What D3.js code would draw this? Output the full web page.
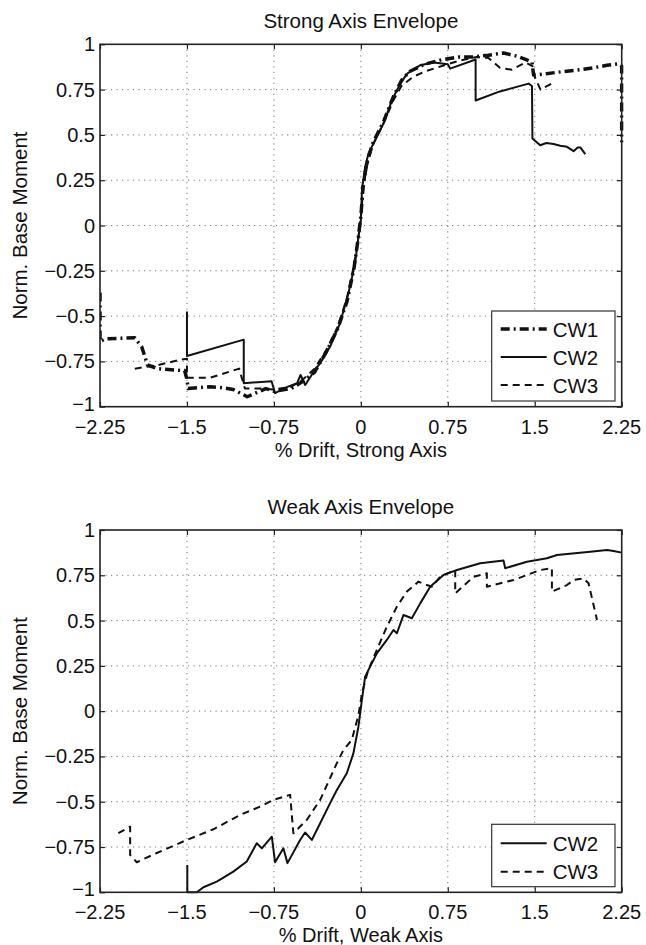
<!DOCTYPE html>
<html>
<head>
<meta charset="utf-8">
<script src="https://cdn.jsdelivr.net/npm/d3@7"></script>
<style>
  body { margin: 0; background: #fff; }
  svg text { font-family: "Liberation Sans", Arial, Helvetica, sans-serif; fill: #111; }
</style>
</head>
<body>
<svg id="chart" width="646" height="945"></svg>
<script>
// ---------- DATA ----------
const xTicks = [-2.25, -1.5, -0.75, 0, 0.75, 1.5, 2.25];
const xTickLabels = ["\u22122.25", "\u22121.5", "\u22120.75", "0", "0.75", "1.5", "2.25"];
const yTicks = [-1, -0.75, -0.5, -0.25, 0, 0.25, 0.5, 0.75, 1];
const yTickLabels = ["\u22121", "\u22120.75", "\u22120.5", "\u22120.25", "0", "0.25", "0.5", "0.75", "1"];

const strongTitle = "Strong Axis Envelope";
const strongXLabel = "% Drift, Strong Axis";
const weakTitle = "Weak Axis Envelope";
const weakXLabel = "% Drift, Weak Axis";
const yLabel = "Norm. Base Moment";

// Strong axis series [drift, moment]
const strongCW1 = [
  [-2.25,-0.37],[-2.25,-0.64],[-2.2,-0.625],[-1.95,-0.62],[-1.89,-0.67],[-1.84,-0.77],[-1.75,-0.79],
  [-1.55,-0.8],[-1.52,-0.8],[-1.5,-0.85],[-1.49,-0.9],[-1.3,-0.89],[-1.2,-0.895],[-1.1,-0.905],
  [-0.98,-0.945],[-0.82,-0.9],[-0.75,-0.915],[-0.6,-0.9],[-0.5,-0.86],[-0.4,-0.81],[-0.3,-0.7],
  [-0.2,-0.57],[-0.12,-0.42],[-0.06,-0.24],[-0.025,-0.08],[0,0.05],[0.02,0.22],[0.05,0.34],
  [0.1,0.45],[0.2,0.58],[0.28,0.71],[0.35,0.8],[0.42,0.85],[0.55,0.89],[0.7,0.915],[0.85,0.93],
  [0.97,0.93],[1.1,0.94],[1.23,0.952],[1.35,0.934],[1.476,0.902],[1.49,0.83],[1.6,0.838],
  [1.75,0.85],[1.893,0.86],[2.0,0.87],[2.123,0.884],[2.223,0.893],[2.25,0.88],[2.25,0.46]
];
const strongCW2 = [
  [-1.5,-0.475],[-1.5,-0.72],[-1.01,-0.63],[-1.01,-0.87],[-0.77,-0.86],[-0.74,-0.925],[-0.65,-0.895],
  [-0.55,-0.87],[-0.52,-0.825],[-0.48,-0.88],[-0.4,-0.8],[-0.35,-0.76],[-0.265,-0.668],[-0.18,-0.54],
  [-0.107,-0.374],[-0.05,-0.21],[-0.02,-0.06],[0,0.03],[0.01,0.2],[0.037,0.324],[0.066,0.398],
  [0.123,0.471],[0.195,0.563],[0.268,0.691],[0.34,0.783],[0.4,0.838],[0.51,0.884],[0.63,0.9],
  [0.75,0.89],[0.77,0.866],[0.99,0.916],[0.99,0.69],[1.2,0.74],[1.447,0.783],[1.476,0.77],
  [1.48,0.48],[1.547,0.443],[1.6,0.455],[1.662,0.45],[1.72,0.44],[1.778,0.434],[1.835,0.41],
  [1.87,0.43],[1.893,0.431],[1.936,0.394]
];
const strongCW3 = [
  [-1.95,-0.79],[-1.75,-0.77],[-1.55,-0.74],[-1.5,-0.735],[-1.5,-0.84],[-1.3,-0.84],[-1.05,-0.79],
  [-1.0,-0.9],[-0.85,-0.9],[-0.75,-0.905],[-0.6,-0.89],[-0.5,-0.85],[-0.4,-0.79],[-0.3,-0.69],
  [-0.2,-0.56],[-0.12,-0.4],[-0.06,-0.22],[-0.02,-0.06],[0,0.04],[0.02,0.2],[0.05,0.32],[0.1,0.44],
  [0.2,0.57],[0.28,0.69],[0.35,0.77],[0.45,0.82],[0.55,0.85],[0.7,0.88],[0.85,0.91],[1.0,0.93],
  [1.1,0.925],[1.2,0.87],[1.3,0.86],[1.42,0.9],[1.48,0.88],[1.5,0.82],[1.55,0.75],[1.65,0.785]
];

// Weak axis series
const weakCW2 = [
  [-1.497,-0.849],[-1.497,-1.0],[-1.415,-1.0],[-1.358,-0.972],[-1.243,-0.941],[-1.1,-0.886],
  [-0.984,-0.83],[-0.898,-0.729],[-0.854,-0.757],[-0.768,-0.693],[-0.74,-0.834],[-0.668,-0.757],
  [-0.633,-0.839],[-0.524,-0.711],[-0.481,-0.67],[-0.423,-0.711],[-0.351,-0.619],[-0.265,-0.508],
  [-0.207,-0.435],[-0.121,-0.343],[-0.064,-0.232],[-0.021,-0.086],[0.009,0.062],[0.037,0.19],
  [0.08,0.246],[0.138,0.319],[0.224,0.393],[0.281,0.448],[0.311,0.43],[0.368,0.531],[0.44,0.513],
  [0.512,0.595],[0.598,0.687],[0.713,0.752],[0.829,0.779],[1.03,0.816],[1.231,0.831],[1.245,0.789],
  [1.433,0.825],[1.605,0.844],[1.692,0.862],[1.979,0.88],[2.123,0.89],[2.18,0.884],[2.25,0.875]
];
const weakCW3 = [
  [-2.092,-0.674],[-1.99,-0.638],[-1.99,-0.794],[-1.933,-0.834],[-1.76,-0.783],[-1.588,-0.735],
  [-1.502,-0.711],[-1.272,-0.652],[-1.042,-0.573],[-0.869,-0.527],[-0.754,-0.49],[-0.61,-0.462],
  [-0.582,-0.674],[-0.466,-0.6],[-0.351,-0.49],[-0.207,-0.287],[-0.15,-0.214],[-0.078,-0.159],
  [-0.02,-0.02],[0.01,0.1],[0.06,0.22],[0.138,0.338],[0.224,0.466],[0.311,0.577],[0.397,0.66],
  [0.497,0.715],[0.57,0.696],[0.613,0.687],[0.684,0.742],[0.814,0.779],[0.814,0.65],[0.972,0.742],
  [1.087,0.761],[1.087,0.687],[1.317,0.724],[1.547,0.779],[1.648,0.789],[1.648,0.66],[1.778,0.696],
  [1.835,0.724],[1.921,0.733],[1.964,0.706],[2.037,0.503]
];

// ---------- STYLES ----------
const styles = {
  CW1: { width: 3.5, dash: "9,4,2,4" },
  CW2: { width: 2, dash: null },
  CW3: { width: 2, dash: "7,5" }
};

const svg = d3.select("#chart");
const TICKFONT = 20;
const FONT = 20.5;

function drawPanel(cfg) {
  const { left, right, top, bottom, title, xLabel, series, legendBox } = cfg;
  const x = d3.scaleLinear().domain([-2.25, 2.25]).range([left, right]);
  const y = d3.scaleLinear().domain([-1, 1]).range([bottom, top]);
  const g = svg.append("g");

  // grid
  g.append("g").selectAll("line").data(xTicks.slice(1, -1)).join("line")
    .attr("x1", d => x(d)).attr("x2", d => x(d)).attr("y1", top).attr("y2", bottom)
    .attr("stroke", "#777").attr("stroke-width", 1).attr("stroke-dasharray", "1.2,4.3");
  g.append("g").selectAll("line").data(yTicks.slice(1, -1)).join("line")
    .attr("y1", d => y(d)).attr("y2", d => y(d)).attr("x1", left).attr("x2", right)
    .attr("stroke", "#777").attr("stroke-width", 1).attr("stroke-dasharray", "1.2,4.3");

  // axes (inward ticks on all four sides)
  const axB = d3.axisBottom(x).tickValues(xTicks).tickSize(-5).tickFormat("");
  const axT = d3.axisTop(x).tickValues(xTicks).tickSize(-5).tickFormat("");
  const axL = d3.axisLeft(y).tickValues(yTicks).tickSize(-5).tickFormat("");
  const axR = d3.axisRight(y).tickValues(yTicks).tickSize(-5).tickFormat("");
  [[axB, `translate(0,${bottom})`], [axT, `translate(0,${top})`],
   [axL, `translate(${left},0)`], [axR, `translate(${right},0)`]].forEach(([ax, tr]) => {
    const a = g.append("g").attr("transform", tr).call(ax);
    a.select(".domain").remove();
    a.selectAll("line").attr("stroke", "#222").attr("stroke-width", 1.2);
  });

  // tick labels
  g.append("g").selectAll("text").data(xTicks).join("text")
    .attr("x", d => x(d)).attr("y", bottom + 27).attr("text-anchor", "middle")
    .attr("font-size", TICKFONT).text((d, i) => xTickLabels[i]);
  g.append("g").selectAll("text").data(yTicks).join("text")
    .attr("x", left - 5).attr("y", d => y(d) + (d === -1 ? 4 : 7)).attr("text-anchor", "end")
    .attr("font-size", TICKFONT).text((d, i) => yTickLabels[i]);

  // series
  const line = d3.line().x(d => x(d[0])).y(d => y(d[1]));
  const clipId = "clip" + Math.round(top);
  svg.append("clipPath").attr("id", clipId).append("rect")
    .attr("x", left).attr("y", top - 2).attr("width", right - left + 2).attr("height", bottom - top + 4);
  const sg = g.append("g").attr("clip-path", `url(#${clipId})`);
  series.forEach(s => {
    const st = styles[s.name];
    sg.append("path").datum(s.data).attr("d", line)
      .attr("fill", "none").attr("stroke", "#111").attr("stroke-width", st.width)
      .attr("stroke-linejoin", "round")
      .attr("stroke-dasharray", st.dash);
  });

  // frame
  g.append("rect").attr("x", left).attr("y", top).attr("width", right - left).attr("height", bottom - top)
    .attr("fill", "none").attr("stroke", "#222").attr("stroke-width", 1.6);

  // title & labels
  g.append("text").attr("x", (left + right) / 2).attr("y", top - 16).attr("text-anchor", "middle")
    .attr("font-size", FONT).text(title);
  g.append("text").attr("x", (left + right) / 2).attr("y", bottom + 50).attr("text-anchor", "middle")
    .attr("font-size", 20).text(xLabel);
  g.append("text").attr("transform", `translate(27,${(top + bottom) / 2}) rotate(-90)`)
    .attr("text-anchor", "middle").attr("font-size", FONT).text(yLabel);

  // legend
  const lb = legendBox;
  const lg = g.append("g");
  lg.append("rect").attr("x", lb.x).attr("y", lb.y).attr("width", lb.w).attr("height", lb.h)
    .attr("fill", "#fff").attr("stroke", "#333").attr("stroke-width", 1.2);
  series.forEach((s, i) => {
    const cy = lb.y + lb.first + i * lb.step;
    const st = styles[s.name];
    lg.append("line").attr("x1", lb.x + 9).attr("x2", lb.x + 55).attr("y1", cy).attr("y2", cy)
      .attr("stroke", "#111").attr("stroke-width", st.width).attr("stroke-dasharray", st.dash);
    lg.append("text").attr("x", lb.x + 61).attr("y", cy + 7.5).attr("font-size", FONT).text(s.name);
  });
}

drawPanel({
  left: 100, right: 621.7, top: 44.3, bottom: 406.7,
  title: strongTitle, xLabel: strongXLabel,
  series: [{ name: "CW1", data: strongCW1 }, { name: "CW2", data: strongCW2 }, { name: "CW3", data: strongCW3 }],
  legendBox: { x: 491.7, y: 311, w: 123.3, h: 90, first: 18, step: 28 }
});
drawPanel({
  left: 100, right: 621.7, top: 530, bottom: 892.3,
  title: weakTitle, xLabel: weakXLabel,
  series: [{ name: "CW2", data: weakCW2 }, { name: "CW3", data: weakCW3 }],
  legendBox: { x: 491.7, y: 824.3, w: 123.3, h: 62.4, first: 19, step: 28.4 }
});
</script>
</body>
</html>
